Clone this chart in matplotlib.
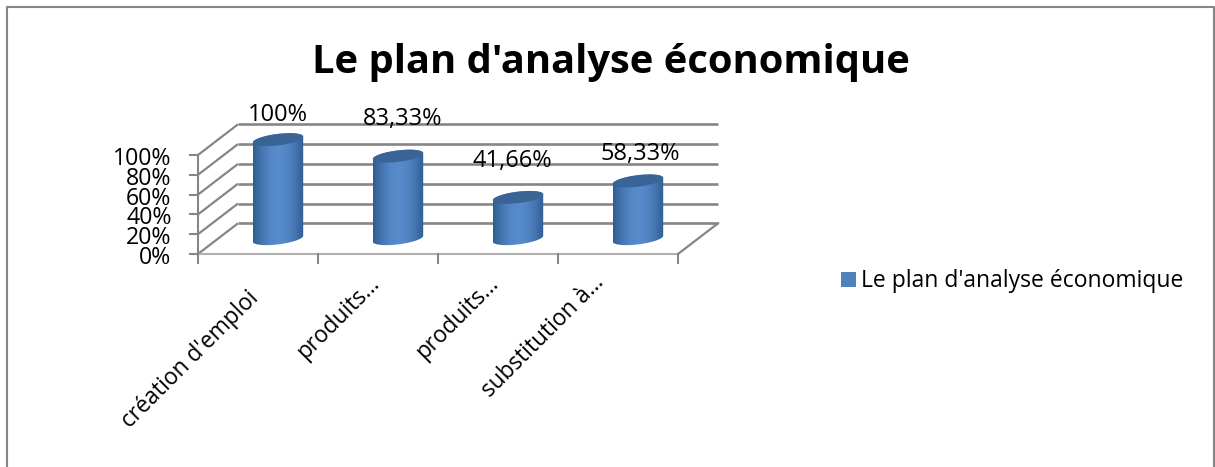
import numpy as np
import matplotlib.pyplot as plt
from matplotlib.patches import Rectangle, PathPatch
from matplotlib.path import Path

categories = ["création d'emploi", "produits…", "produits…", "substitution à…"]
values = [100, 83.33, 41.66, 58.33]
value_labels = ["100%", "83,33%", "41,66%", "58,33%"]
y_ticks = [0, 20, 40, 60, 80, 100]
y_tick_labels = ["0%", "20%", "40%", "60%", "80%", "100%"]
title = "Le plan d'analyse économique"

# where the labels sit, relative to the bar tops and the category slots
label_dx = [0, 0.04, -0.05, 0.02]
label_dy = [25, 38, 37, 27]
cat_x = [0.41, 0.41, 0.4, 0.28]
cat_y = [-33, -18, -18, -17]

W, H = 1215, 467
plt.rcParams['font.family'] = ['Open Sans', 'DejaVu Sans']

fig = plt.figure(figsize=(W / 100, H / 100), dpi=100)

# chart border, open at the bottom
border = '#868686'
bx = [7 / W, 7 / W, 1214 / W, 1214 / W]
by = [0, 1 - 7 / H, 1 - 7 / H, 0]
fig.add_artist(plt.Line2D(bx, by, transform=fig.transFigure, color=border, lw=1.5))

# the axes is the front plane of the fake 3d box
ax = fig.add_axes([198 / W, 1 - 254 / H, 480 / W, 99 / H])
ax.axis('off')

# depth of the box in data units
dx = 40 / 120
dy = 31

grid = '#868686'
for t, lab in zip(y_ticks, y_tick_labels):
    ax.plot([0, dx], [t, t + dy], color=grid, lw=1.6, clip_on=False, solid_capstyle='butt')
    ax.plot([dx, 4 + dx], [t + dy, t + dy], color=grid, lw=1.9, clip_on=False, solid_capstyle='butt')
    ax.plot([-0.07, 0], [t, t], color=grid, lw=1.5, clip_on=False)
    ax.text(-0.22, t - 4, lab, ha='right', va='center', fontsize=16.7, color='black', clip_on=False)

# walls and floor
ax.plot([0, 0], [0, 100], color=grid, lw=1.5, clip_on=False)
ax.plot([0, 4], [0, 0], color='#b0b0b0', lw=1.5, clip_on=False)
ax.plot([4, 4 + dx], [0, dy], color=grid, lw=1.6, clip_on=False)
for i in range(5):
    ax.plot([i, i], [0, -9], color=grid, lw=1.5, clip_on=False)

# gradient across a cylinder
grad = np.abs(np.linspace(-1, 1, 128)) ** 1.8
dark = np.array([0x2f, 0x5c, 0x91]) / 255
light = np.array([0x57, 0x8b, 0xcc]) / 255
img = (light + (dark - light) * grad[:, None])[None, :, :]

t = np.linspace(0, 2 * np.pi, 100)
half_w = 0.21
half_h = 5.8
shear = 3
for i, v in enumerate(values):
    cx = i + 0.5 + dx / 2
    base = dy / 2
    top = base + v
    lower = np.linspace(np.pi, 2 * np.pi, 50)
    upper = np.linspace(0, np.pi, 50)
    xs = np.r_[cx + half_w * np.cos(lower), cx + half_w * np.cos(upper)]
    ys = np.r_[base + half_h * np.sin(lower) + shear * np.cos(lower),
               top + half_h * np.sin(upper) + shear * np.cos(upper)]
    verts = np.column_stack([xs, ys])
    body = PathPatch(Path(np.vstack([verts, verts[0]])), transform=ax.transData, fc='none', ec='none')
    ax.add_patch(body)
    im = ax.imshow(img, extent=[cx - half_w, cx + half_w, base - 10, top + 10], aspect='auto', zorder=3)
    im.set_clip_box(fig.bbox)
    im.set_clip_path(body)
    ax.fill(cx + half_w * np.cos(t), top + half_h * np.sin(t) + shear * np.cos(t),
            color='#3b6496', zorder=4, clip_on=False, lw=0)
    ax.text(cx + label_dx[i], top + label_dy[i], value_labels[i], ha='center', va='center', fontsize=17,
            color='black', zorder=5, clip_on=False)
    # category labels, rotated at 45 deg, anchored at the right end
    ax.text(i + cat_x[i], cat_y[i], categories[i], rotation=45, rotation_mode='anchor', ha='right', va='top',
            fontsize=16.3, color='black', clip_on=False)
ax.set_xlim(0, 4)
ax.set_ylim(0, 100)

fig.text(611 / W, 1 - 62 / H, title, ha='center', va='center', fontsize=28.7, fontweight='bold', color='black')

# legend
fig.add_artist(Rectangle((841 / W, 1 - 287 / H), 15 / W, 15 / H, transform=fig.transFigure,
                         fc='#4f81bd', ec='none'))
fig.text(861 / W, 1 - 281 / H, title, ha='left', va='center', fontsize=16.5, color='black')

fig.savefig('out.png', dpi=100)
